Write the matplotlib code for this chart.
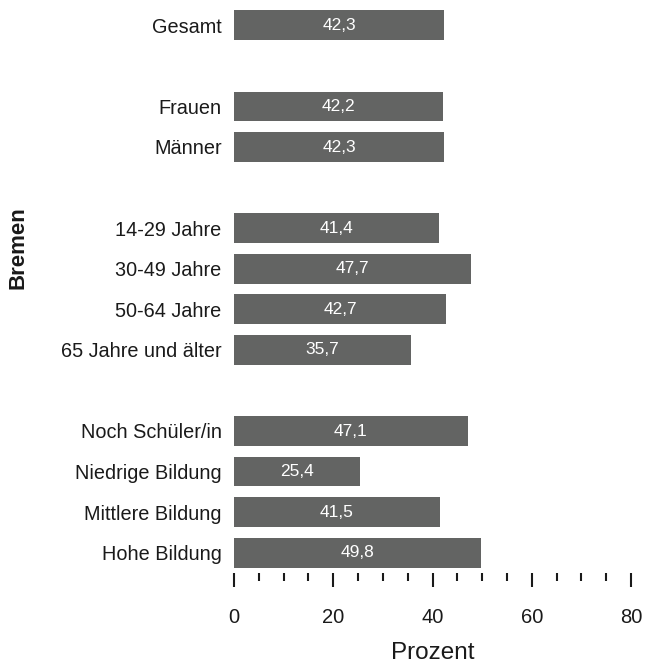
import matplotlib
matplotlib.use("Agg")
import matplotlib.pyplot as plt
from matplotlib.ticker import MultipleLocator

plt.rcParams['font.family'] = ['Liberation Sans', 'DejaVu Sans']

categories = ["Gesamt", "", "Frauen", "Männer", "", "14-29 Jahre", "30-49 Jahre",
              "50-64 Jahre", "65 Jahre und älter", "", "Noch Schüler/in",
              "Niedrige Bildung", "Mittlere Bildung", "Hohe Bildung"]
values = [42.3, None, 42.2, 42.3, None, 41.4, 47.7, 42.7, 35.7, None, 47.1, 25.4, 41.5, 49.8]
value_labels = ["42,3", "", "42,2", "42,3", "", "41,4", "47,7", "42,7", "35,7", "",
                "47,1", "25,4", "41,5", "49,8"]
xticks = [0, 20, 40, 60, 80]

W, H = 645, 665
fig = plt.figure(figsize=(W / 100, H / 100), dpi=100)
left, right, top, bottom = 234, 631, 5, 573
ax = fig.add_axes([left / W, 1 - bottom / H, (right - left) / W, (bottom - top) / H])

color = "#636463"
for i, (v, lab) in enumerate(zip(values, value_labels)):
    if v is None:
        continue
    ax.barh(i, v, height=0.73, color=color, edgecolor="none")
    ax.text(v / 2, i, lab, ha="center", va="center", color="white", fontsize=12.5)

ax.set_yticks(range(len(categories)))
ax.set_yticklabels(categories, fontsize=14.3, color="#1a1a1a")
ax.tick_params(axis="y", length=0, pad=9)
ax.set_ylim(len(categories) - 0.5, -0.5)
ax.set_xlim(0, 80)
ax.set_xticks(xticks)
ax.set_xticklabels([str(t) for t in xticks], fontsize=14.5, color="#1a1a1a")
ax.xaxis.set_minor_locator(MultipleLocator(5))
ax.tick_params(axis="x", which="major", length=10, width=1.5, color="#1a1a1a", pad=15)
ax.tick_params(axis="x", which="minor", length=6, width=1.5, color="#1a1a1a")
for s in ax.spines.values():
    s.set_visible(False)

ax.set_xlabel("Prozent", fontsize=17.5, color="#1a1a1a", labelpad=11)
fig.text(18 / W, 1 - 248 / H, "Bremen", rotation=90, ha="center", va="center",
         fontsize=16, fontweight="bold", color="#1a1a1a")

fig.savefig("out.png", dpi=100)
